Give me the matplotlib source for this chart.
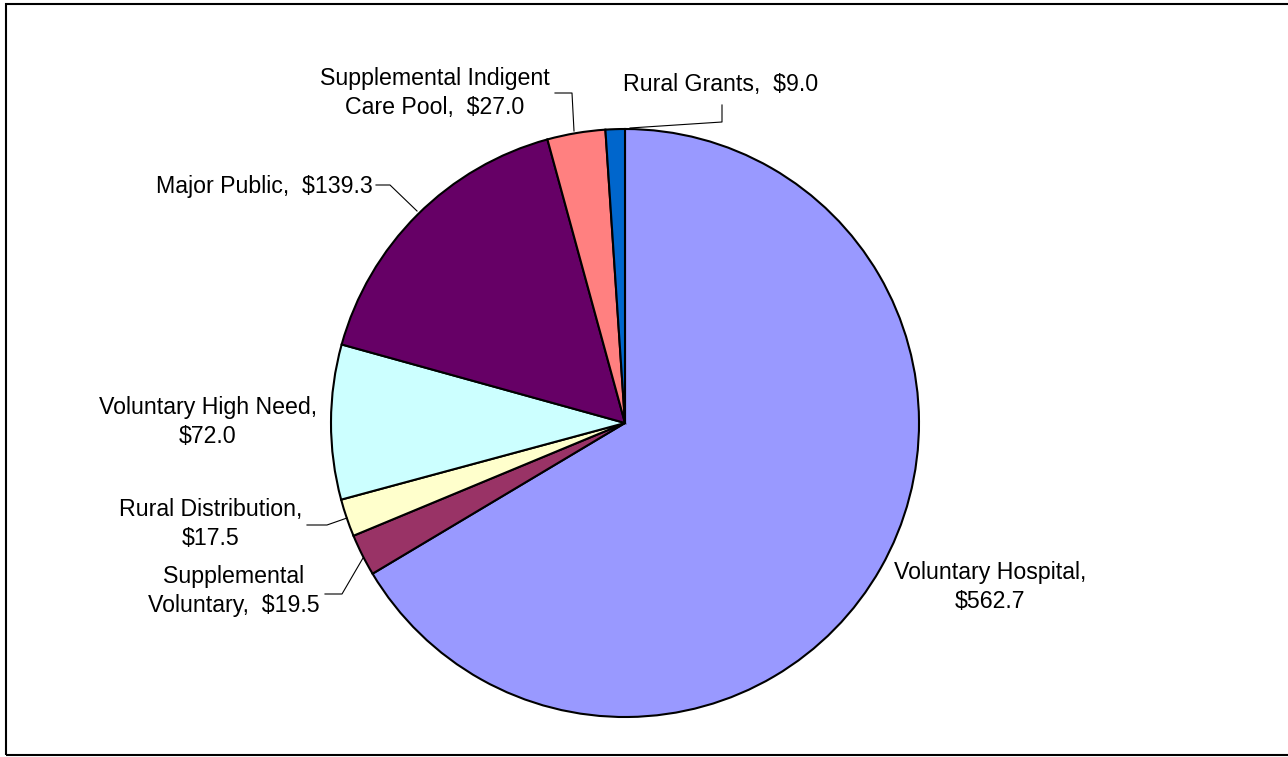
import matplotlib.pyplot as plt
from matplotlib.patches import Rectangle

plt.rcParams['font.family'] = ['Liberation Sans', 'DejaVu Sans']

# slices in clockwise order starting at 12 o'clock
names = ['Voluntary Hospital', 'Supplemental Voluntary', 'Rural Distribution',
         'Voluntary High Need', 'Major Public', 'Supplemental Indigent Care Pool',
         'Rural Grants']
values = [562.7, 19.5, 17.5, 72.0, 139.3, 27.0, 9.0]
colors = ['#9999FF', '#993366', '#FFFFCC', '#CCFFFF', '#660066', '#FF8080', '#0066CC']

# label text (as laid out in the chart) and pixel placement
label_text = [
    'Voluntary Hospital,\n${:.1f}',
    'Supplemental\nVoluntary,  ${:.1f}',
    'Rural Distribution,\n${:.1f}',
    'Voluntary High Need,\n${:.1f}',
    'Major Public,  ${:.1f}',
    'Supplemental Indigent\nCare Pool,  ${:.1f}',
    'Rural Grants,  ${:.1f}',
]
label_pos = [(990, 587), (234, 591), (211, 524), (208, 422), (373, 187), (435, 93), (623, 85)]
label_ha = ['center', 'center', 'center', 'center', 'right', 'center', 'left']
# leader lines in pixels (None = no line)
leaders = [
    None,
    [(325, 594), (342, 594), (363, 558)],
    [(307, 525), (327, 525), (347, 518)],
    None,
    [(376, 185), (390, 185), (417, 211)],
    [(555, 93), (572, 93), (574, 131)],
    [(722, 105), (722, 122), (630, 128)],
]

W, H = 1288, 757
fig = plt.figure(figsize=(W / 100, H / 100), dpi=100)
ax = fig.add_axes([0, 0, 1, 1])

cx, cy, r = 625, 423, 294
ax.pie(values, colors=colors, startangle=90, counterclock=False,
       center=(cx, H - cy), radius=r,
       wedgeprops=dict(edgecolor='black', linewidth=1.5), frame=True)
ax.set_xlim(0, W)
ax.set_ylim(0, H)
ax.set_aspect('equal')
ax.axis('off')

for txt, v, (x, y), ha in zip(label_text, values, label_pos, label_ha):
    ax.text(x, H - y, txt.format(v), ha=ha, va='center', fontsize=16.7,
            linespacing=1.38, multialignment='center')

for pts in leaders:
    if pts is None:
        continue
    ax.plot([p[0] for p in pts], [H - p[1] for p in pts], color='black', lw=0.8)

# outer frame (right edge runs off the canvas)
fig.patches.append(Rectangle((6 / W, 2 / H), 1.2, (H - 6) / H,
                             transform=fig.transFigure, fill=False,
                             edgecolor='black', linewidth=1.5))

fig.savefig('out.png', dpi=100)
